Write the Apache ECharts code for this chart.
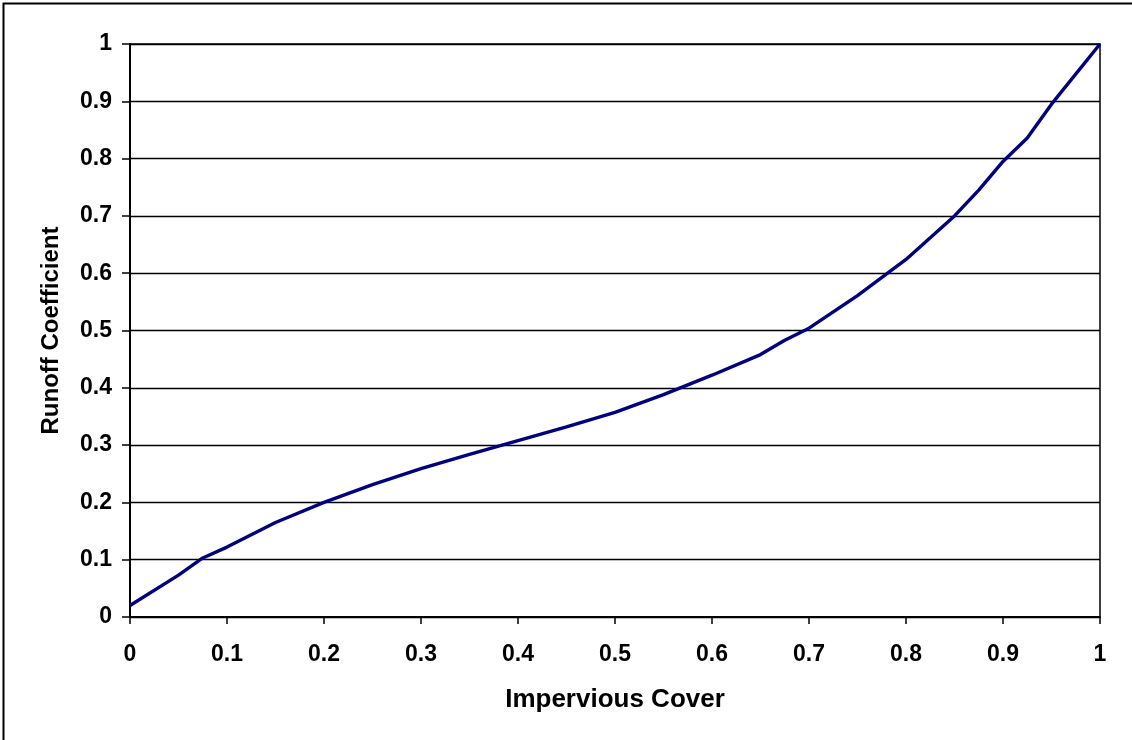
<!DOCTYPE html>
<html>
<head>
<meta charset="utf-8">
<script src="https://cdn.jsdelivr.net/npm/echarts@6/dist/echarts.min.js"></script>
<style>html,body{margin:0;padding:0;background:#fff}#c{width:1132px;height:740px}</style>
</head>
<body>
<div id="c"></div>
<script>
const impervious = [0, 0.05, 0.075, 0.1, 0.15, 0.2, 0.25, 0.3, 0.35, 0.4, 0.45, 0.5, 0.55, 0.6, 0.65, 0.675, 0.7, 0.75, 0.8, 0.825, 0.85, 0.875, 0.9, 0.925, 0.95, 1.0];
const runoff = [0.02, 0.073, 0.103, 0.122, 0.165, 0.2, 0.231, 0.259, 0.284, 0.308, 0.332, 0.357, 0.388, 0.422, 0.458, 0.483, 0.504, 0.561, 0.624, 0.662, 0.7, 0.745, 0.795, 0.836, 0.895, 1.0];
const tickLabels = ['0','0.1','0.2','0.3','0.4','0.5','0.6','0.7','0.8','0.9','1'];

const chart = echarts.init(document.getElementById('c'));
const font = 'Liberation Sans, Arial, sans-serif';
chart.setOption({
  animation: false,
  graphic: [{type:'rect', shape:{x:3.5,y:3.5,width:1140,height:750}, style:{fill:'none', stroke:'#000', lineWidth:2}}],
  grid: {left:130, right:32, top:44, bottom:123, show:true, borderColor:'#000', borderWidth:1.5, backgroundColor:'transparent'},
  xAxis: {
    type:'value', min:0, max:1, interval:0.1,
    name:'Impervious Cover', nameLocation:'middle', nameGap:70,
    nameTextStyle:{fontFamily:font, fontWeight:'bold', fontSize:26, color:'#000'},
    axisLine:{lineStyle:{color:'#000', width:2}},
    axisTick:{show:true, length:7, lineStyle:{color:'#000', width:1.5}},
    axisLabel:{fontFamily:font, fontWeight:'bold', fontSize:23, color:'#000', margin:26,
      formatter:(v)=>tickLabels[Math.round(v*10)]},
    splitLine:{show:false}
  },
  yAxis: {
    type:'value', min:0, max:1, interval:0.1,
    name:'Runoff Coefficient', nameLocation:'middle', nameGap:67,
    nameTextStyle:{fontFamily:font, fontWeight:'bold', fontSize:24, color:'#000'},
    axisLine:{show:true, lineStyle:{color:'#000', width:2}},
    axisTick:{show:true, length:8, lineStyle:{color:'#000', width:1.5}},
    axisLabel:{fontFamily:font, fontWeight:'bold', fontSize:23, color:'#000', margin:18,
      formatter:(v)=>tickLabels[Math.round(v*10)]},
    splitLine:{show:true, lineStyle:{color:'#000', width:1.3}}
  },
  series: [{
    type:'line', data: impervious.map((x,i)=>[x, runoff[i]]),
    showSymbol:false, smooth:false,
    lineStyle:{color:'#000080', width:3.4}
  }]
});
</script>
</body>
</html>
